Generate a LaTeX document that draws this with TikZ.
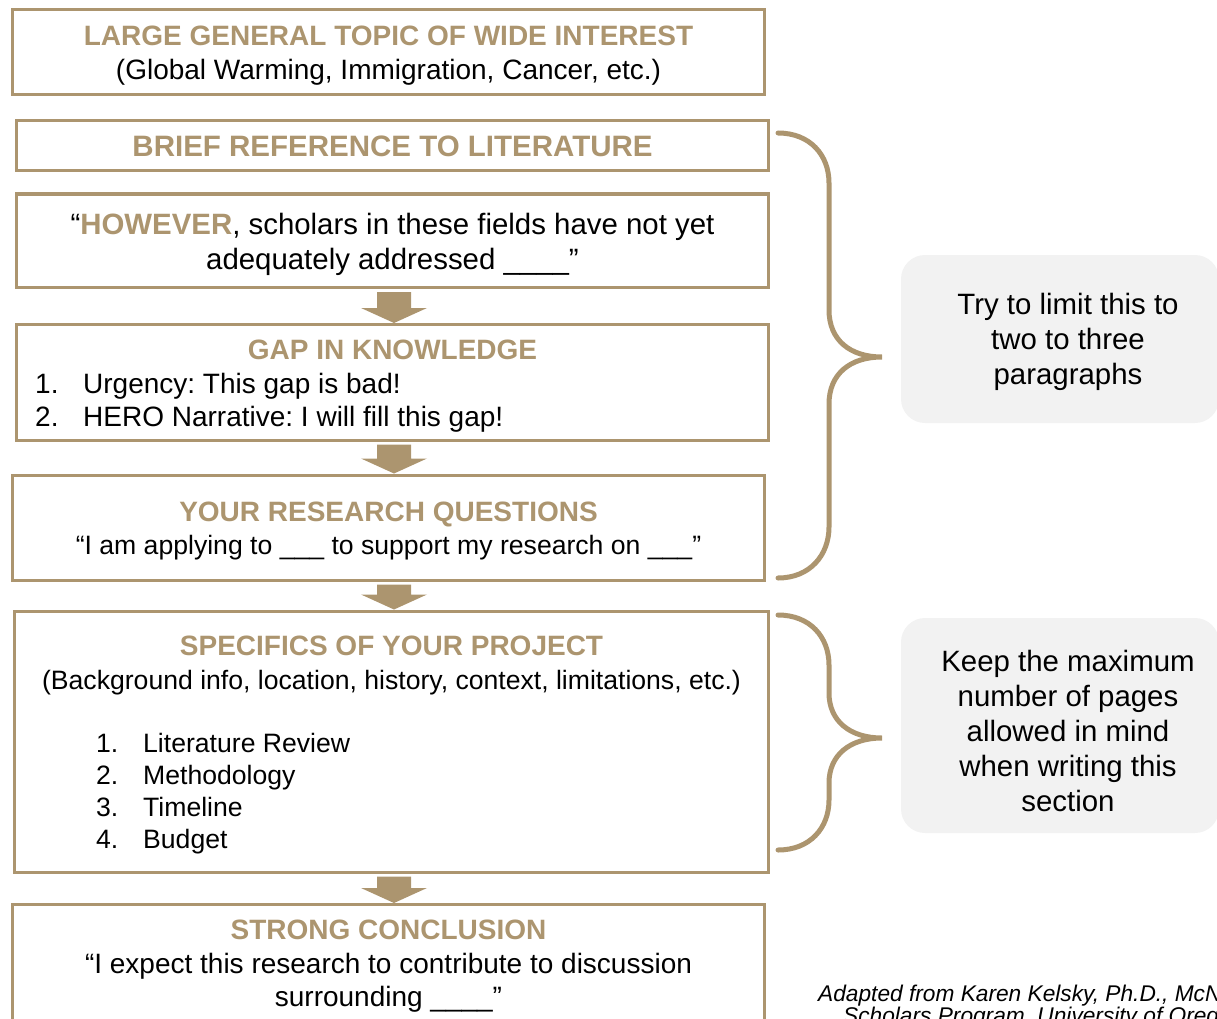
\documentclass[tikz,border=0pt]{standalone}
\usepackage{fontspec}
\setmainfont{Liberation Sans}
\frenchspacing
\usetikzlibrary{calc}
\definecolor{tan}{RGB}{172,149,111}
\definecolor{calloutgray}{RGB}{242,242,242}
\newcommand\fsz[1]{\fontsize{#1}{34}\selectfont}
\newcommand\blockarr[2]{%
  \fill[tan] let \p1=#1, \p2=#2 in
    (\x1-17pt,\y1) -- (\x1+17pt,\y1) -- (\x1+17pt,\y2+15pt) -- (\x1+33pt,\y2+15pt)
    -- (\x1,\y2) -- (\x1-33pt,\y2+15pt) -- (\x1-17pt,\y2+15pt) -- cycle;}
\begin{document}
\begin{tikzpicture}[x=1pt,y=-1pt,
  box/.style={draw=tan, line width=3pt, rectangle, inner sep=0pt},
  head/.style={anchor=base, text=tan, font=\fsz{28}\bfseries, inner sep=0pt},
  body/.style={anchor=base, font=\fsz{28}, inner sep=0pt},
  listtxt/.style={anchor=base west, font=\fsz{28}, inner sep=0pt},
  callout/.style={fill=calloutgray, rounded corners=24pt, inner sep=0pt},
  ctext/.style={anchor=base, font=\fsz{29.4}, inner sep=0pt},
  attr/.style={anchor=base west, font=\fsz{22.7}\itshape, inner sep=0pt},
  brace/.style={draw=tan, line width=5pt, line cap=round}]
\useasboundingbox (0,0) rectangle (1217,1019);
% boxes
\node[box, minimum width=752pt, minimum height=85pt] (b1) at (388.5,52) {};
\node[box, minimum width=752pt, minimum height=50pt] (b2) at (392.5,146) {};
\node[box, minimum width=752pt, minimum height=93.5pt] (b3) at (392.5,240.75) {};
\node[box, minimum width=752pt, minimum height=115.5pt] (b4) at (392.5,382.25) {};
\node[box, minimum width=752pt, minimum height=105pt] (b5) at (388.5,527.5) {};
\node[box, minimum width=754pt, minimum height=261pt] (b6) at (391.5,741.5) {};
\node[box, minimum width=752pt, minimum height=125.5pt] (b7) at (388.5,967.25) {};
% arrows
\coordinate (xa) at (394,0);
\blockarr{($(b3.south -| xa)+(0,3)$)}{(b4.north -| xa)}
\blockarr{($(b4.south -| xa)+(0,3)$)}{(b5.north -| xa)}
\blockarr{($(b5.south -| xa)+(0,3)$)}{(b6.north -| xa)}
\blockarr{($(b6.south -| xa)+(0,3)$)}{(b7.north -| xa)}
% box texts
\node[head] (h1) at (388.5,46) {LARGE GENERAL TOPIC OF WIDE INTEREST};
\node[body] (t1) at (388.5,80) {(Global Warming, Immigration, Cancer, etc.)};
\node[head, font=\fsz{29.5}\bfseries] (h2) at (392.5,157) {BRIEF REFERENCE TO LITERATURE};
\node[body, font=\fsz{29.4}] (t3a) at (392.5,234) {“\textcolor{tan}{\bfseries HOWEVER}, scholars in these fields have not yet};
\node[body, font=\fsz{29.4}] (t3b) at (392.5,269) {adequately addressed \_\_\_\_”};
\node[head] (h4) at (392.5,359) {GAP IN KNOWLEDGE};
\node[listtxt] (n4a) at (35,393) {1.};
\node[listtxt] (l4a) at (83,393) {Urgency: This gap is bad!};
\node[listtxt] (n4b) at (35,426) {2.};
\node[listtxt] (l4b) at (83,426) {HERO Narrative: I will fill this gap!};
\node[head] (h5) at (388.5,521) {YOUR RESEARCH QUESTIONS};
\node[body, font=\fsz{26.6}] (t5) at (388.5,554) {“I am applying to \_\_\_ to support my research on \_\_\_”};
\node[head] (h6) at (391.5,655) {SPECIFICS OF YOUR PROJECT};
\node[body, font=\fsz{26.6}] (t6) at (391.5,689) {(Background info, location, history, context, limitations, etc.)};
\node[listtxt, font=\fsz{26.6}] (n6a) at (96,752) {1.};
\node[listtxt, font=\fsz{26.6}] (l6a) at (143,752) {Literature Review};
\node[listtxt, font=\fsz{26.6}] (n6b) at (96,784) {2.};
\node[listtxt, font=\fsz{26.6}] (l6b) at (143,784) {Methodology};
\node[listtxt, font=\fsz{26.6}] (n6c) at (96,816) {3.};
\node[listtxt, font=\fsz{26.6}] (l6c) at (143,816) {Timeline};
\node[listtxt, font=\fsz{26.6}] (n6d) at (96,848) {4.};
\node[listtxt, font=\fsz{26.6}] (l6d) at (143,848) {Budget};
\node[head] (h7) at (388.5,939) {STRONG CONCLUSION};
\node[body] (t7a) at (388.5,973) {“I expect this research to contribute to discussion};
\node[body] (t7b) at (388.5,1006) {surrounding \_\_\_\_”};
% braces
\coordinate (br1a) at (778,133);
\coordinate (br1t) at (882,357);
\coordinate (br1b) at (778,578);
\draw[brace] (br1a) .. controls (810,133) and (829,155) .. (829,183) -- (829,310)
  .. controls (829,340) and (850,357) .. (br1t)
  .. controls (850,357) and (829,374) .. (829,404) -- (829,527)
  .. controls (829,555) and (810,578) .. (br1b);
\coordinate (br2a) at (778,615);
\coordinate (br2t) at (882,738);
\coordinate (br2b) at (778,850);
\draw[brace] (br2a) .. controls (810,615) and (829,637) .. (829,665) -- (829,693)
  .. controls (829,721) and (850,738) .. (br2t)
  .. controls (850,738) and (829,755) .. (829,783) -- (829,800)
  .. controls (829,828) and (810,850) .. (br2b);
% callouts
\node[callout, minimum width=318pt, minimum height=168pt] (c1) at (1060,339) {};
\node[ctext] (c1a) at (1068,314) {Try to limit this to};
\node[ctext] (c1b) at (1068,349) {two to three};
\node[ctext] (c1c) at (1068,384) {paragraphs};
\node[callout, minimum width=318pt, minimum height=215pt] (c2) at (1060,725.5) {};
\node[ctext] (c2a) at (1068,671) {Keep the maximum};
\node[ctext] (c2b) at (1068,706) {number of pages};
\node[ctext] (c2c) at (1068,741) {allowed in mind};
\node[ctext] (c2d) at (1068,776) {when writing this};
\node[ctext] (c2e) at (1068,811) {section};
% attribution
\node[attr] (at1) at (818,1001) {Adapted from Karen Kelsky, Ph.D., McNair};
\node[attr] (at2) at (843,1023) {Scholars Program, University of Oregon};
\end{tikzpicture}
\end{document}
